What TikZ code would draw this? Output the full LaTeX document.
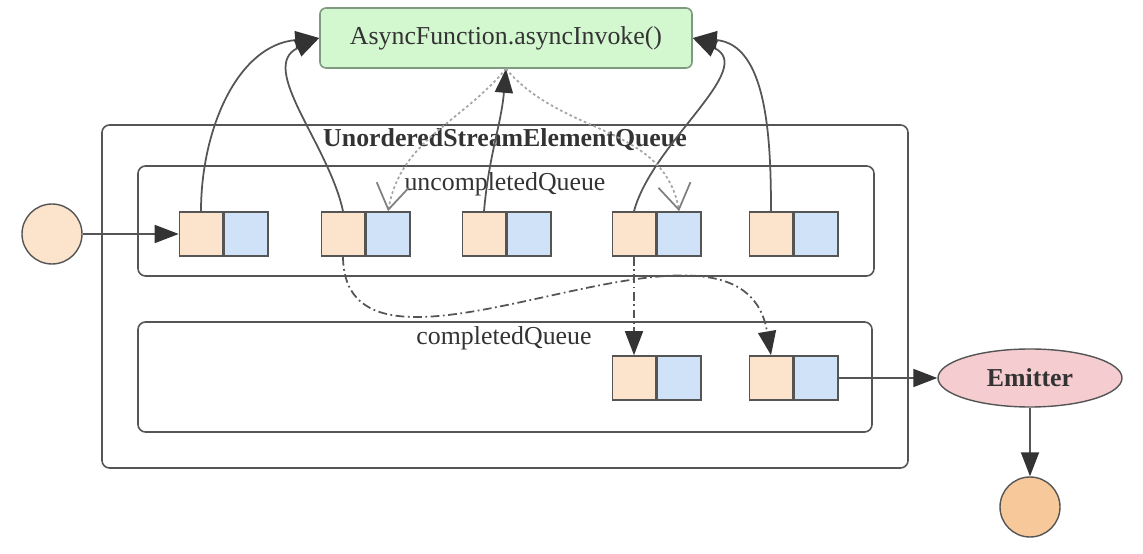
\documentclass[tikz,border=0pt]{standalone}
\usepackage{fontspec}
\setmainfont{Liberation Serif}
\usetikzlibrary{arrows.meta,shapes.geometric}
\definecolor{cellorange}{HTML}{FBE3CC}
\definecolor{cellblue}{HTML}{CFE2F8}
\definecolor{funcgreen}{HTML}{D3F7CF}
\definecolor{funcedge}{HTML}{7F9A7F}
\definecolor{emitpink}{HTML}{F5CDD0}
\definecolor{sinkorange}{HTML}{F7C99A}
\definecolor{edgegray}{HTML}{555555}
\definecolor{tipgray}{HTML}{333333}
\begin{document}
\begin{tikzpicture}[x=0.2mm,y=-0.2mm]
\tikzset{
  every node/.style={font=\fontsize{14.7}{17}\selectfont,text=tipgray},
  queuebox/.style={draw=edgegray,line width=0.9pt,rounded corners=1.5mm,inner sep=0pt},
  cello/.style={draw=edgegray,line width=0.9pt,fill=cellorange,minimum width=8.6mm,minimum height=8.8mm,inner sep=0pt},
  cellb/.style={draw=edgegray,line width=0.9pt,fill=cellblue,minimum width=8.8mm,minimum height=8.8mm,inner sep=0pt,anchor=west},
  endpoint/.style={circle,draw=edgegray,line width=0.8pt,minimum size=12mm,inner sep=0pt},
  call/.style={-{Triangle[length=4.8mm,width=3.6mm,color=tipgray]},draw=edgegray,line width=1pt},
  callback/.style={-{Straight Barb[length=5mm,width=6.5mm,color=gray]},draw=gray!70,line width=1pt,dash pattern=on 1.5pt off 1.5pt},
  complete/.style={-{Triangle[length=4.8mm,width=3.6mm,color=tipgray]},draw=edgegray,line width=1pt,dash pattern=on 5pt off 2pt on 1pt off 2pt}
}
\useasboundingbox (0,0) rectangle (1143,554);
% queues
\node[queuebox,minimum width=161.2mm,minimum height=68.6mm] (n_queue) at (505,296.5) {};
\node[font=\fontsize{14.7}{17}\selectfont\bfseries] (n_queue_label) at (505,140) {UnorderedStreamElementQueue};
\node[queuebox,minimum width=147.2mm,minimum height=22mm] (n_uncompleted) at (506,221) {};
\node (n_uncompleted_label) at (505,184) {uncompletedQueue};
\node[queuebox,minimum width=146.8mm,minimum height=22mm] (n_completed) at (505,377) {};
\node (n_completed_label) at (504,338) {completedQueue};
% async function
\node[draw=funcedge,line width=0.9pt,fill=funcgreen,rounded corners=1.2mm,minimum width=74.4mm,minimum height=12mm] (n_func) at (506,38) {AsyncFunction.asyncInvoke()};
% elements of the uncompleted queue
\node[cello] (n_u1a) at (201,234) {};
\node[cellb] (n_u1b) at (n_u1a.east) {};
\node[cello] (n_u2a) at (343,234) {};
\node[cellb] (n_u2b) at (n_u2a.east) {};
\node[cello] (n_u3a) at (484,234) {};
\node[cellb] (n_u3b) at (n_u3a.east) {};
\node[cello] (n_u4a) at (634,234) {};
\node[cellb] (n_u4b) at (n_u4a.east) {};
\node[cello] (n_u5a) at (771,234) {};
\node[cellb] (n_u5b) at (n_u5a.east) {};
% elements of the completed queue
\node[cello] (n_c1a) at (634,378) {};
\node[cellb] (n_c1b) at (n_c1a.east) {};
\node[cello] (n_c2a) at (771,378) {};
\node[cellb] (n_c2b) at (n_c2a.east) {};
% source, emitter, sink
\node[endpoint,fill=cellorange] (n_src) at (52,234) {};
\node[ellipse,draw=edgegray,line width=0.8pt,fill=emitpink,minimum width=36.8mm,minimum height=11.6mm,inner sep=0pt,font=\fontsize{14.7}{17}\selectfont\bfseries] (n_emit) at (1030,378) {Emitter};
\node[endpoint,fill=sinkorange] (n_sink) at (1030,507) {};
% connectors
\draw[call] (n_src) -- (n_u1a);
\draw[call] (n_u1a.north) to[out=90,in=185] (n_func.west);
\draw[call] (n_u2a.north) to[out=102,in=205] (n_func.west);
\draw[call] (n_u3a.north) to[out=85,in=-95] (n_func.south);
\draw[call] (n_u4a.north) to[out=75,in=-25] (n_func.east);
\draw[call] (n_u5a.north) to[out=90,in=-5] (n_func.east);
\draw[callback] (n_func.south) to[out=-130,in=80] (n_u2b.north);
\draw[callback] (n_func.south) to[out=-50,in=100] (n_u4b.north);
\draw[complete] (n_u4a.south) -- (n_c1a.north);
\draw[complete] (n_u2a.south) .. controls (345,425) and (740,170) .. (n_c2a.north);
\draw[call] (n_c2b) -- (n_emit);
\draw[call] (n_emit) -- (n_sink);
\end{tikzpicture}
\end{document}
